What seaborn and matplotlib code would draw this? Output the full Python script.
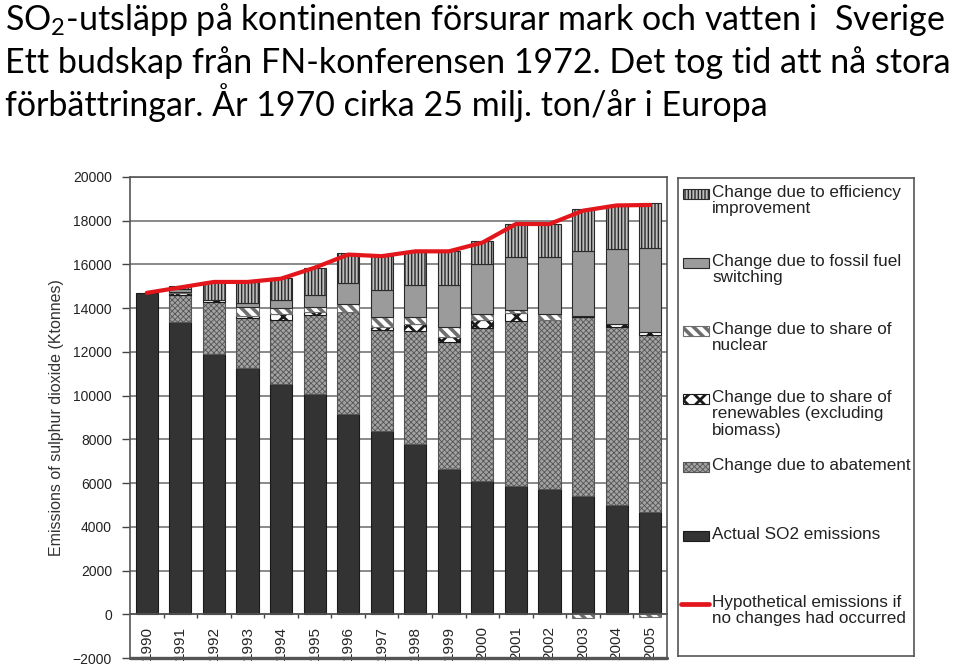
import numpy as np
import pandas as pd
import seaborn as sns
import matplotlib.pyplot as plt
from matplotlib.patches import Rectangle
from matplotlib.lines import Line2D

# data (Ktonnes SO2, Europe)
years = [str(y) for y in range(1990, 2006)]
actual = [14700, 13350, 11900, 11260, 10530, 10070, 9150, 8390, 7780, 6640, 6100, 5870, 5750, 5415, 4990, 4655]
abatement = [0, 1250, 2365, 2290, 2930, 3615, 4655, 4620, 5185, 5825, 6975, 7550, 7715, 8180, 8145, 8115]
renewables = [0, 80, 120, 100, 275, 150, 40, 150, 305, 230, 395, 380, 0, 50, 140, 125]
nuclear = [0, 50, 0, 385, 260, 200, 350, 440, 335, 460, 260, 100, 260, -150, 0, -130]
fossil = [0, 150, 0, 180, 390, 580, 945, 1235, 1465, 1920, 2290, 2425, 2595, 2950, 3430, 3860]
efficiency = [0, 150, 800, 960, 980, 1220, 1370, 1530, 1555, 1555, 1040, 1525, 1525, 1935, 2015, 2060]
hypothetical = [14700, 14950, 15200, 15200, 15350, 15850, 16450, 16380, 16600, 16600, 17000, 17850, 17850, 18460, 18700, 18720]

title_lines = ["SO$_2$-utsläpp på kontinenten försurar mark och vatten i  Sverige",
               "Ett budskap från FN-konferensen 1972. Det tog tid att nå stora",
               "förbättringar. År 1970 cirka 25 milj. ton/år i Europa"]

sns.set_theme(style="white")
plt.rcParams['font.family'] = ['Liberation Sans', 'DejaVu Sans']
plt.rcParams['mathtext.fontset'] = 'custom'
plt.rcParams['mathtext.rm'] = 'Lato'
plt.rcParams['hatch.linewidth'] = 1.0

W, H = 960, 671
fig = plt.figure(figsize=(9.6, 6.71), dpi=100)

# styles for the stacked parts
styles = {
    'eff': dict(facecolor='#bdbdbd', edgecolor='#2a2a2a', hatch='|||||', lw=0.8),
    'fos': dict(facecolor='#9b9b9b', edgecolor='#2a2a2a', hatch=None, lw=0.8),
    'nuc': dict(facecolor='white', edgecolor='#6e6e6e', hatch='\\\\\\', lw=0.8),
    'ren': dict(facecolor='white', edgecolor='#1a1a1a', hatch='xx', lw=0.8),
    'aba': dict(facecolor='#a3a3a3', edgecolor='#555555', hatch='xxxxxx', lw=0.8),
    'act': dict(facecolor='#333333', edgecolor='#1a1a1a', hatch=None, lw=0.8),
}
hatch_lw = {'eff': 1.0, 'fos': 1.0, 'nuc': 2.6, 'ren': 2.0, 'aba': 0.6, 'act': 1.0}

ax = fig.add_axes([130 / W, (H - 658) / H, (667 - 130) / W, (658 - 177) / H])
x = np.arange(len(years))
bw = 0.66

for yv in range(0, 20001, 2000):
    ax.axhline(yv, color='#808080', lw=1.3, zorder=0)

df = pd.DataFrame({'year': years, 'actual': actual})
sns.barplot(data=df, x='year', y='actual', color='#333333', saturation=1,
            width=bw, edgecolor='#1a1a1a', linewidth=0.8, ax=ax, zorder=2)

pos_bottom = np.array(actual, dtype=float)
neg_bottom = np.zeros(len(years))
for vals, key in [(abatement, 'aba'), (renewables, 'ren'), (nuclear, 'nuc'),
                  (fossil, 'fos'), (efficiency, 'eff')]:
    v = np.array(vals, dtype=float)
    m = v != 0
    b = np.where(v >= 0, pos_bottom, neg_bottom)
    st = styles[key]
    with plt.rc_context({'hatch.linewidth': hatch_lw[key]}):
        bars = ax.bar(x[m], v[m], width=bw, bottom=b[m], facecolor=st['facecolor'],
                      edgecolor=st['edgecolor'], hatch=st['hatch'], linewidth=st['lw'], zorder=2)
    for p in bars:
        if hasattr(p, 'set_hatch_linewidth'):
            p.set_hatch_linewidth(hatch_lw[key])
    pos_bottom += np.clip(v, 0, None)
    neg_bottom += np.clip(v, None, 0)

sns.lineplot(x=x, y=hypothetical, color='#e3161c', lw=3.0, ax=ax, zorder=3)

ax.set_xlim(-0.5, len(years) - 0.5)
ax.set_ylim(-2000, 20000)
ax.set_yticks(range(-2000, 20001, 2000))
ax.set_xticks(x)
ax.set_xticklabels(years, fontsize=9, color='#222222')
ax.set_xticks(x[:-1] + 0.5, minor=True)
ax.tick_params(axis='x', which='major', length=0, pad=8.5, labelrotation=90)
ax.tick_params(axis='x', which='minor', length=3, width=1, color='#444444', direction='out', bottom=True)
ax.tick_params(axis='y', length=6, width=1, color='#444444', direction='out', left=True,
               labelsize=10, pad=7, labelcolor='#222222')
ax.spines['bottom'].set_position(('data', 0))
for s in ax.spines.values():
    s.set_color('#555555')
    s.set_linewidth(1.2)
ax.axhline(-2000, color='#555555', lw=2.4, clip_on=False, zorder=4)
ax.set_xlabel('')
ax.set_ylabel('Emissions of sulphur dioxide (Ktonnes)', fontsize=11.5, color='#333333')
ax.yaxis.set_label_coords(-0.123, 0.5)

# legend box drawn in its own pixel-coordinate axes
lg = fig.add_axes([678 / W, (H - 656) / H, (914 - 678) / W, (656 - 178) / H])
lg.set_xlim(678, 914)
lg.set_ylim(656, 178)
lg.set_xticks([])
lg.set_yticks([])
lg.set_facecolor('white')
for s in lg.spines.values():
    s.set_color('#555555')
    s.set_linewidth(1.2)

entries = [('eff', 194, "Change due to efficiency\nimprovement"),
           ('fos', 263, "Change due to fossil fuel\nswitching"),
           ('nuc', 331, "Change due to share of\nnuclear"),
           ('ren', 399, "Change due to share of\nrenewables (excluding\nbiomass)"),
           ('aba', 467, "Change due to abatement"),
           ('act', 536, "Actual SO2 emissions")]
for key, yc, label in entries:
    st = styles[key]
    with plt.rc_context({'hatch.linewidth': hatch_lw[key]}):
        r = Rectangle((683, yc - 5), 26, 10, facecolor=st['facecolor'], edgecolor=st['edgecolor'],
                      hatch=st['hatch'], linewidth=0.8)
    if hasattr(r, 'set_hatch_linewidth'):
        r.set_hatch_linewidth(hatch_lw[key])
    lg.add_patch(r)
    lg.text(712, yc - 9, label, fontsize=12.3, va='top', ha='left', color='#222222',
            linespacing=1.12)
lg.add_line(Line2D([681, 709], [604, 604], color='#e3161c', lw=3.4))
lg.text(712, 604 - 9, "Hypothetical emissions if\nno changes had occurred", fontsize=12.3, va='top',
        ha='left', color='#222222', linespacing=1.12)

# title, three lines in a Calibri-like face, scaled so line 2 spans ~943 px
titles = []
for i, line in enumerate(title_lines):
    titles.append(fig.text(5 / W, 1 - (30 + 43 * i) / H, line, fontsize=26, family='Lato',
                           va='baseline', ha='left', color='black'))
renderer = fig.canvas.get_renderer()
wpx = titles[1].get_window_extent(renderer).width
fs = 26 * 943 / wpx
for t in titles:
    t.set_fontsize(fs)

fig.savefig('out.png', dpi=100, facecolor='white')
